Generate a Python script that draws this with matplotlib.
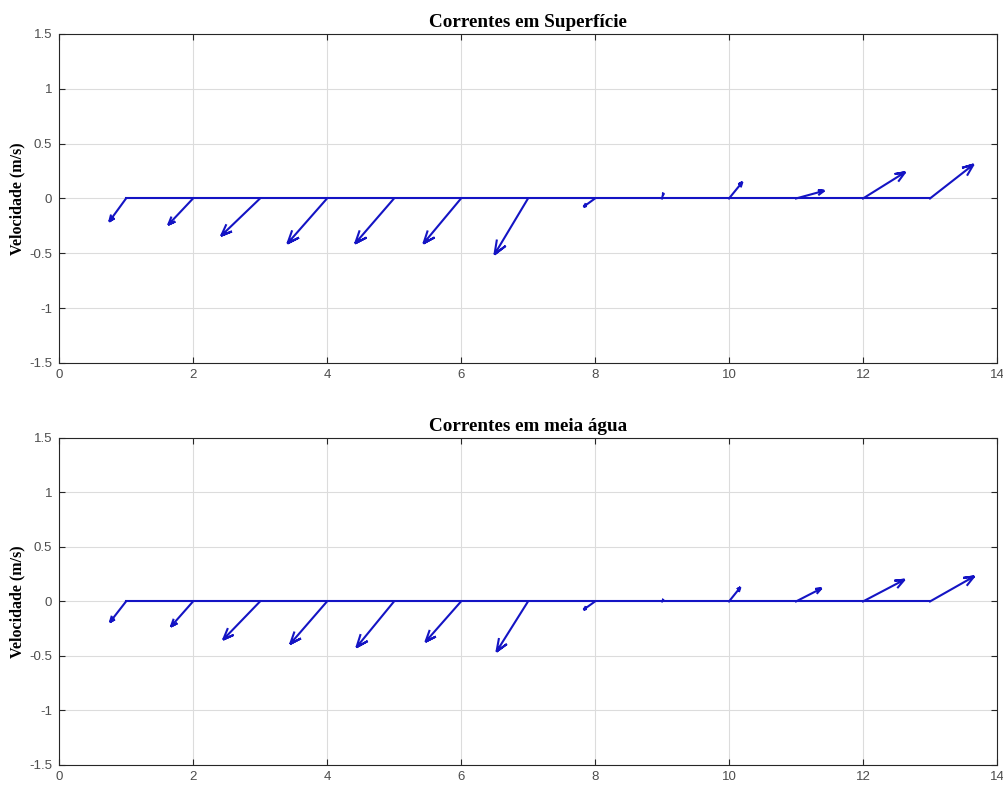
"""Feather plots of surface and mid-water currents."""

import numpy as np
import matplotlib
matplotlib.use("Agg")
import matplotlib.pyplot as plt

# velocity components (m/s), one per time step
u_surface = [-0.25, -0.37, -0.58, -0.59, -0.58, -0.56, -0.50,
             -0.17, 0.02, 0.20, 0.42, 0.63, 0.65]
v_surface = [-0.21, -0.24, -0.34, -0.41, -0.41, -0.41, -0.51,
             -0.075, 0.05, 0.15, 0.07, 0.24, 0.31]

u_mid = [-0.24, -0.33, -0.55, -0.55, -0.56, -0.53, -0.47,
         -0.17, 0.02, 0.17, 0.38, 0.62, 0.66]
v_mid = [-0.19, -0.23, -0.35, -0.39, -0.42, -0.37, -0.46,
         -0.075, 0.02, 0.13, 0.12, 0.20, 0.23]

titles = ["Correntes em Superfície", "Correntes em meia água"]
ylabel = "Velocidade (m/s)"
xticks = [0, 2, 4, 6, 8, 10, 12, 14]
yticks = [-1.5, -1, -0.5, 0, 0.5, 1, 1.5]
ytick_labels = ["-1.5", "-1", "-0.5", "0", "0.5", "1", "1.5"]

ARROW_COLOR = "#1414c4"
AXIS_COLOR = "#262626"


def feather(ax, u, v):
    """Feather arrows from (k, 0); heads shaped in screen space so they look even."""
    fig = ax.figure
    bbox = ax.get_position()
    x0, x1 = ax.get_xlim()
    y0, y1 = ax.get_ylim()
    sx = bbox.width * fig.get_figwidth() * fig.dpi / (x1 - x0)
    sy = bbox.height * fig.get_figheight() * fig.dpi / (y1 - y0)

    z = np.asarray(u) * sx + 1j * np.asarray(v) * sy
    n = len(z)
    shape = np.array([0, 1, 0.8, 1, 0.8]) + 1j * np.array([0, 0, 0.08, 0, -0.08])
    pts = shape[:, None] * z[None, :]
    xs = pts.real / sx + np.arange(1, n + 1)[None, :]
    ys = pts.imag / sy
    ax.plot(xs, ys, color=ARROW_COLOR, linewidth=1.5, solid_joinstyle="miter")
    ax.plot([1, n], [0, 0], color=ARROW_COLOR, linewidth=1.5)


fig = plt.figure(figsize=(10.04, 7.87), dpi=100)
boxes = [[0.0588, 0.5388, 0.9342, 0.4180], [0.0588, 0.0280, 0.9342, 0.4155]]

for box, title, (u, v) in zip(boxes, titles, [(u_surface, v_surface), (u_mid, v_mid)]):
    ax = fig.add_axes(box)
    ax.set_xlim(0, 14)
    ax.set_ylim(-1.5, 1.5)
    feather(ax, u, v)
    ax.set_xticks(xticks)
    ax.set_yticks(yticks)
    ax.set_yticklabels(ytick_labels)
    ax.grid(True, color="#dcdcdc", linewidth=0.8)
    ax.set_axisbelow(True)
    ax.tick_params(direction="in", top=True, right=True, length=4,
                   colors=AXIS_COLOR, labelsize=9.5, labelcolor="#4d4d4d")
    ax.tick_params(axis="x", pad=4)
    ax.tick_params(axis="y", pad=5)
    for lbl in ax.get_xticklabels() + ax.get_yticklabels():
        lbl.set_family("Liberation Sans")
    for spine in ax.spines.values():
        spine.set_color(AXIS_COLOR)
        spine.set_linewidth(0.8)
    ax.set_title(title, family="Liberation Serif", fontweight="bold",
                 fontsize=13.8, pad=5)
    ax.set_ylabel(ylabel, family="Liberation Serif", fontweight="bold",
                  fontsize=11.5, labelpad=3)

fig.savefig("out.png", dpi=100)
